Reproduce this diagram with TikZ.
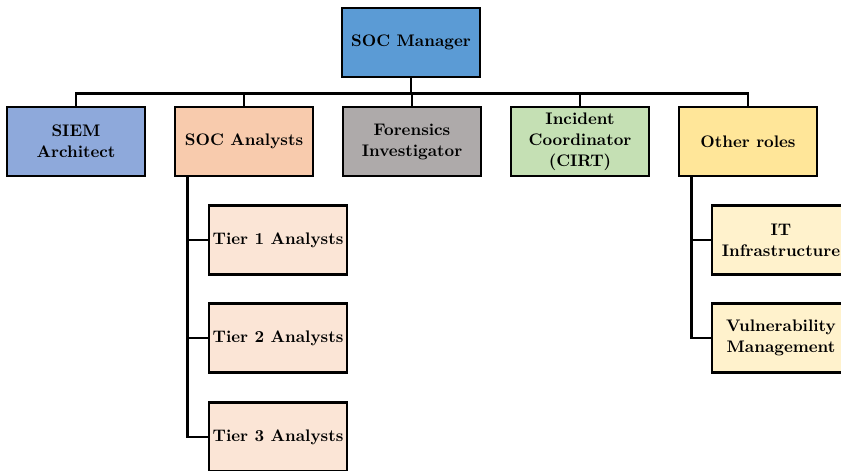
\documentclass[tikz,border=0pt]{standalone}
\usepackage{xcolor}
\usepackage{tikz}
\usetikzlibrary{positioning}
\definecolor{mgrblue}{HTML}{5B9BD5}
\definecolor{siemblue}{HTML}{8EA9DB}
\definecolor{anaorange}{HTML}{F8CBAD}
\definecolor{forgray}{HTML}{AEAAAA}
\definecolor{incgreen}{HTML}{C5E0B4}
\definecolor{othyellow}{HTML}{FFE699}
\definecolor{tierorange}{HTML}{FBE5D6}
\definecolor{subyellow}{HTML}{FFF2CC}

\begin{document}
\begin{tikzpicture}[
  x=0.021cm, y=-0.021cm,
  every node/.style={font=\fontsize{10}{12.5}\selectfont\bfseries},
  role/.style={draw, line width=1.6pt, minimum width=2.9cm, minimum height=1.45cm,
    align=center, inner sep=1pt},
  conn/.style={line width=1.4pt}
]
  % canvas
  \useasboundingbox (0,0) rectangle (841,470);
  \clip (0,0) rectangle (841,470);

  % top
  \node[role, fill=mgrblue] (mgr) at (411,42.5) {SOC Manager};

  % second row
  \node[role, fill=siemblue] (siem) at (76,141.5) {SIEM\\Architect};
  \node[role, fill=anaorange] (ana) at (244,141.5) {SOC Analysts};
  \node[role, fill=forgray] (for) at (412,141.5) {Forensics\\Investigator};
  \node[role, fill=incgreen] (inc) at (580,141.5) {Incident\\Coordinator\\(CIRT)};
  \node[role, fill=othyellow] (oth) at (748,141.5) {Other roles};

  % analyst tiers
  \node[role, fill=tierorange] (t1) at (278,240) {Tier 1 Analysts};
  \node[role, fill=tierorange] (t2) at (278,338) {Tier 2 Analysts};
  \node[role, fill=tierorange] (t3) at (278,437) {Tier 3 Analysts};

  % other roles
  \node[role, fill=subyellow] (it) at (781,240) {IT\\Infrastructure};
  \node[role, fill=subyellow] (vul) at (781,338) {Vulnerability\\Management};

  % connectors
  \foreach \n in {siem,ana,for,inc,oth}
    \draw[conn] (mgr.south) -- ++(0,15) -| (\n.north);
  \foreach \n in {t1,t2,t3}
    \draw[conn] ([xshift=0.294cm]ana.south west) |- (\n.west);
  \foreach \n in {it,vul}
    \draw[conn] ([xshift=0.294cm]oth.south west) |- (\n.west);

\end{tikzpicture}
\end{document}
